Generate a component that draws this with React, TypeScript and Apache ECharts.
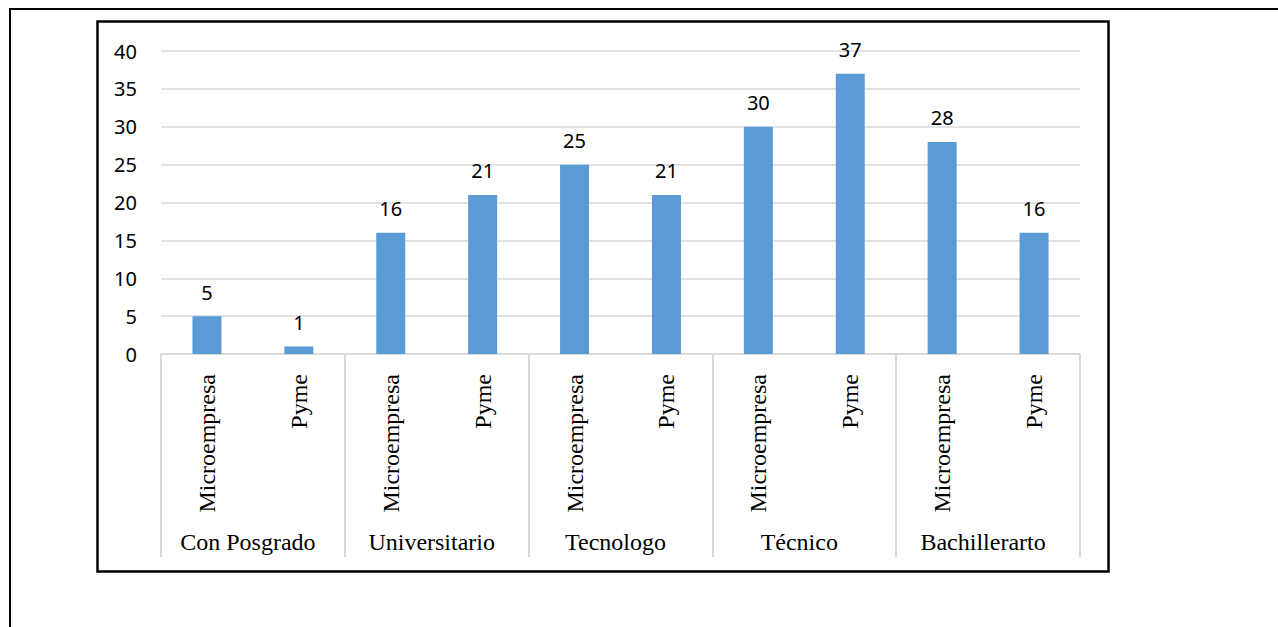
import React, { useEffect, useRef } from "react";
import * as echarts from "echarts";

const categories = [
  "Microempresa", "Pyme",
  "Microempresa", "Pyme",
  "Microempresa", "Pyme",
  "Microempresa", "Pyme",
  "Microempresa", "Pyme",
];
const groups = ["Con Posgrado", "Universitario", "Tecnologo", "Técnico", "Bachillerarto"];
const values = [5, 1, 16, 21, 25, 21, 30, 37, 28, 16];
const yTicks = { min: 0, max: 40, interval: 5 };

export default function App() {
  const ref = useRef<HTMLDivElement>(null);
  useEffect(() => {
    if (!ref.current) return;
    const chart = echarts.init(ref.current, undefined, { renderer: "svg" });
    const sans = "Noto Sans";
    const serif = "Liberation Serif";
    chart.setOption({
      animation: false,
      backgroundColor: "#ffffff",
      grid: { left: 161, right: 198, top: 51, bottom: 273, containLabel: false },
      xAxis: [
        {
          type: "category",
          data: categories,
          position: "bottom",
          axisLine: { show: true, lineStyle: { color: "#d9d9d9", width: 1.5 } },
          axisTick: { show: false },
          axisLabel: {
            interval: 0,
            rotate: 90,
            margin: 20,
            color: "#000",
            fontFamily: serif,
            fontSize: 24,
          },
          splitLine: { show: false },
        },
        {
          type: "category",
          data: groups,
          position: "bottom",
          offset: 203,
          axisLine: { show: false },
          axisTick: {
            show: true,
            inside: true,
            length: 203,
            interval: 0,
            alignWithLabel: false,
            lineStyle: { color: "#d9d9d9", width: 2 },
          },
          axisLabel: {
            inside: true,
            interval: 0,
            margin: 3,
            padding: [0, 10, 0, 0],
            color: "#000",
            fontFamily: serif,
            fontSize: 24,
          },
          splitLine: { show: false },
        },
      ],
      yAxis: {
        type: "value",
        min: yTicks.min,
        max: yTicks.max,
        interval: yTicks.interval,
        axisLine: { show: false },
        axisTick: { show: false },
        axisLabel: { color: "#000", fontFamily: sans, fontSize: 20, margin: 24 },
        splitLine: { show: true, lineStyle: { color: "#d9d9d9", width: 1.5 } },
      },
      series: [
        {
          type: "bar",
          xAxisIndex: 0,
          data: values,
          barWidth: 29,
          itemStyle: { color: "#5b9bd5" },
          label: {
            show: true,
            position: "top",
            distance: 14,
            color: "#000",
            fontFamily: sans,
            fontSize: 20,
          },
        },
      ],
      graphic: [
        { type: "line", shape: { x1: 9, y1: 9, x2: 1278, y2: 9 }, style: { stroke: "#000", lineWidth: 2 } },
        { type: "line", shape: { x1: 10, y1: 8, x2: 10, y2: 627 }, style: { stroke: "#000", lineWidth: 2 } },
        {
          type: "rect",
          shape: { x: 97.5, y: 21.5, width: 1011, height: 550 },
          style: { fill: "none", stroke: "#000", lineWidth: 2.5 },
          silent: true,
        },
      ],
    });
    return () => chart.dispose();
  }, []);
  return (
    <div
      ref={ref}
      style={{ position: "absolute", left: 0, top: 0, width: 1278, height: 627 }}
    />
  );
}
